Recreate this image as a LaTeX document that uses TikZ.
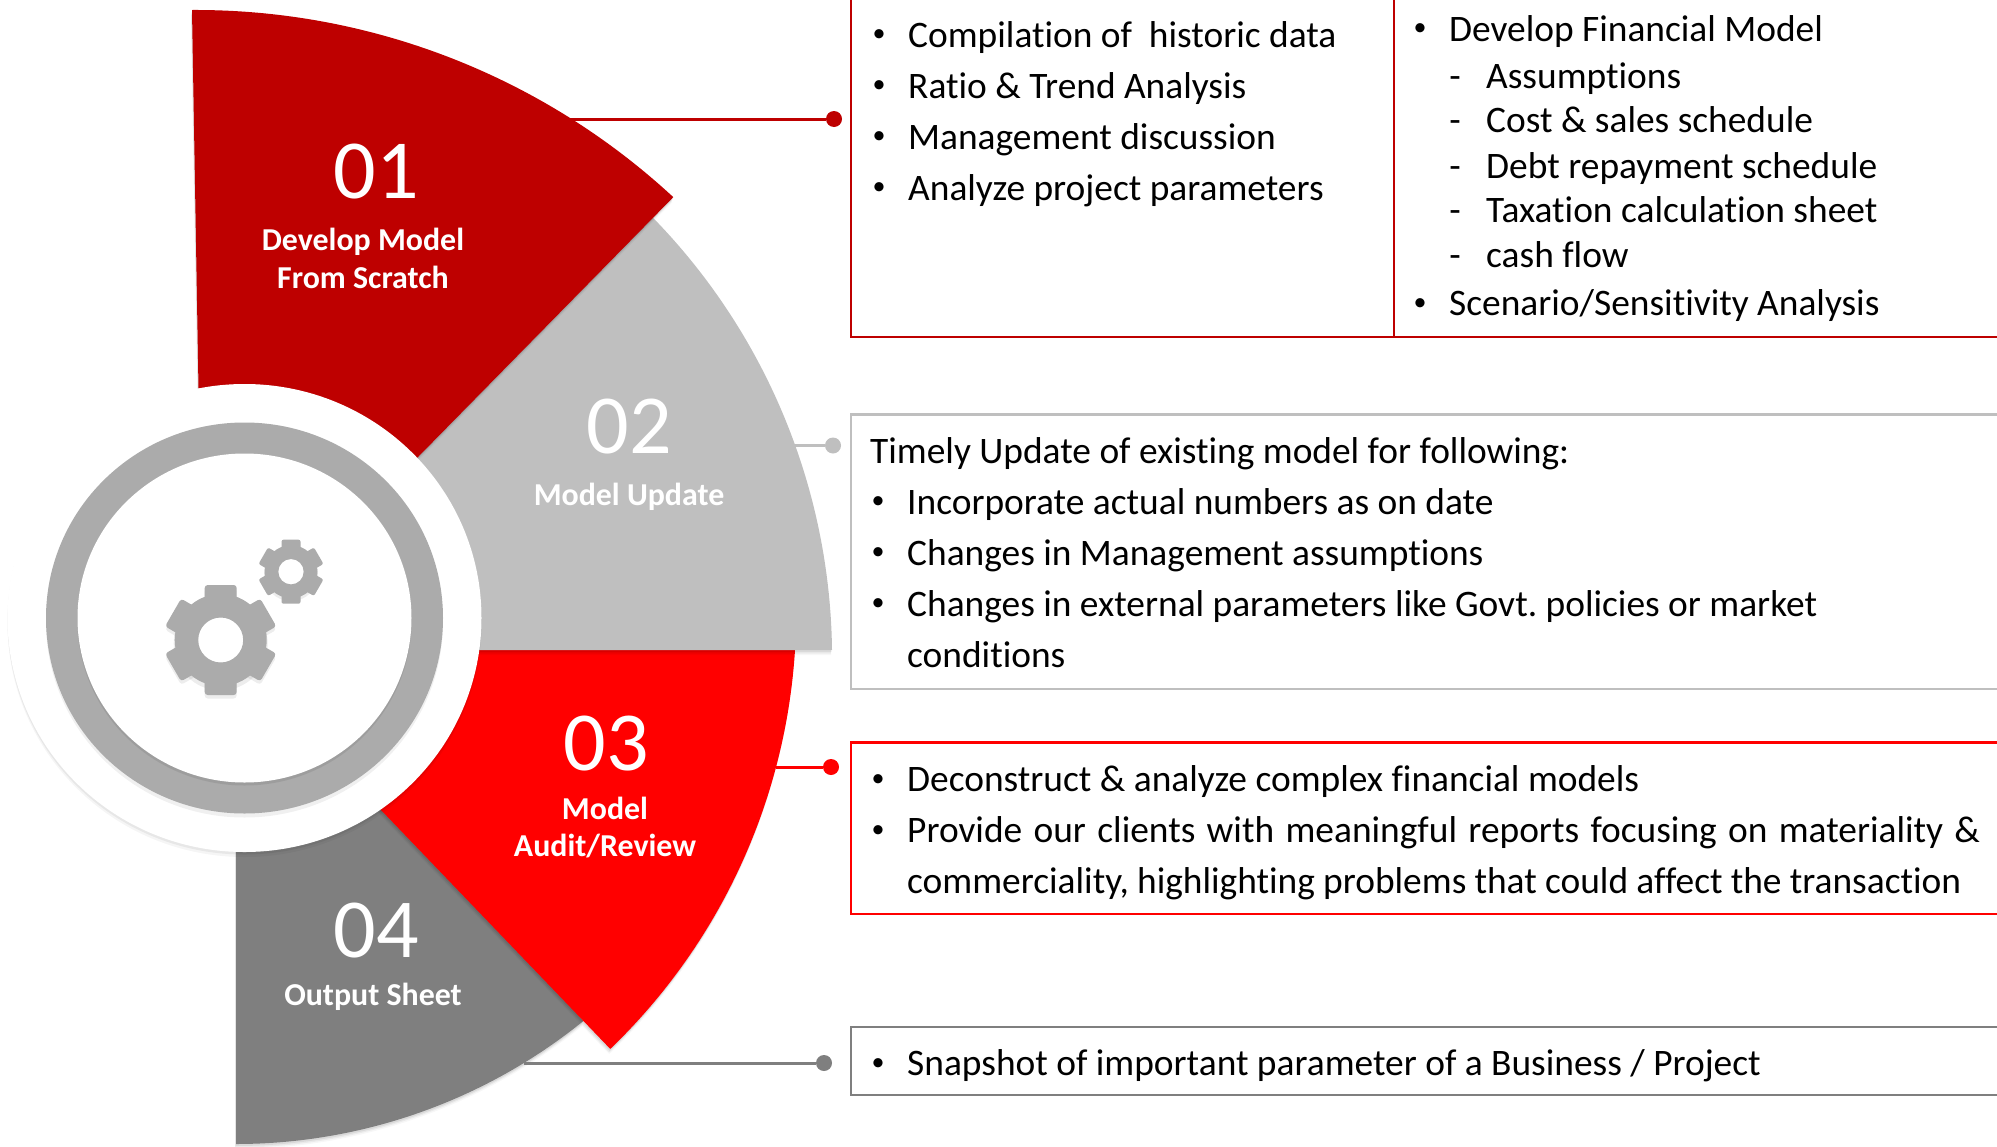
\documentclass[tikz,border=0pt]{standalone}
\usepackage{fontspec}
\setmainfont{Carlito}[RawFeature={-liga;-clig;-dlig}]
\frenchspacing
\usetikzlibrary{calc}
\definecolor{cA}{HTML}{BE0000}
\definecolor{cB}{HTML}{BFBFBF}
\definecolor{cC}{HTML}{FF0000}
\definecolor{cD}{HTML}{7F7F7F}
\definecolor{ring}{HTML}{ABABAB}
\tikzset{
  softshadow/.style={
    preaction={fill=black,opacity=.03,transform canvas={shift={(-1pt,-5pt)}}},
    preaction={fill=black,opacity=.05,transform canvas={shift={(-1pt,-3.5pt)}}},
    preaction={fill=black,opacity=.07,transform canvas={shift={(-.5pt,-2pt)}}}},
  numtxt/.style={text=white,inner sep=0pt,font=\fontsize{84}{84}\selectfont},
  labtxt/.style={text=white,inner sep=0pt,font=\fontsize{31.9}{32}\selectfont\bfseries},
  bodytxt/.style={text=black,inner sep=0pt,anchor=base west,yshift=-.3pt,font=\fontsize{37.4}{38}\selectfont},
  bultxt/.style={text=black,inner sep=0pt,anchor=base,yshift=5.5pt,font=\fontsize{26}{26}\selectfont},
  dashtxt/.style={text=black,inner sep=0pt,anchor=base,yshift=-.3pt,font=\fontsize{37.4}{38}\selectfont},
  dotnode/.style={circle,inner sep=0pt,minimum size=16pt,fill=#1},
  conn/.style={draw=#1,line width=3pt},
  boxline/.style={draw=#1,line width=2.2pt},
}
\newcommand{\bitem}[4]{% name, bullet x, text x, y  (text follows)
  \node[bultxt] (#1b) at (#2,-#4) {•};\bitemtext{#1}{#3}{#4}}
\newcommand{\bitemtext}[3]{\node[bodytxt] (#1) at (#2,-#3)}
\begin{document}
\begin{tikzpicture}[x=1pt,y=1pt]
\useasboundingbox (0,0) rectangle (1997,-1146);
% sectors
\fill[cD,softshadow] (236,-851) -- (236,-1144) arc[start angle=-90,end angle=-51,radius=552pt] -- (245,-618) -- cycle;
\fill[cC,softshadow] (480,-650) -- (795,-650) arc[start angle=-3.6,end angle=-46.1,radius=606.5pt] -- (381,-810) -- (245,-618) -- cycle;
\fill[cB,softshadow] (245,-618) -- (480,-650) -- (832,-650) arc[start angle=.7,end angle=44.3,radius=630pt] -- cycle;
\fill[cA,softshadow] (192,-10) arc[start angle=90.3,end angle=47.2,radius=703pt] -- (418,-457) -- (245,-618) -- (198.5,-388) -- cycle;
% centre
\node[circle,minimum size=2pt,inner sep=0pt] (hub) at (244.5,-618) {};
\fill[white,preaction={fill=black,opacity=.04,transform canvas={shift={(0pt,-5pt)}}},preaction={fill=black,opacity=.06,transform canvas={shift={(0pt,-2.5pt)}}}] (hub.center) ellipse[x radius=237pt,y radius=234pt];
\fill[ring,preaction={fill=black,opacity=.06,transform canvas={shift={(0pt,-4pt)}}}] (hub.center) ellipse[x radius=198.5pt,y radius=195.5pt];
\fill[white,preaction={fill=black,opacity=.08,transform canvas={shift={(0pt,-3pt)}}}] (hub.center) ellipse[x radius=167pt,y radius=164.5pt];
% gears
\begin{scope}[shift={(220.7,-640)}]
  \fill[black,opacity=.07] (0,-3.5) circle[radius=47pt];
  \foreach \a in {30,90,...,330}{
    \fill[black,opacity=.07,rounded corners=3pt,rotate around={\a:(0,-3.5)},shift={(0,-3.5)}] (30,-16) rectangle (55,16);}
  \foreach \a in {30,90,...,330}{
    \fill[ring,rounded corners=3pt,rotate=\a] (30,-16) rectangle (55,16);}
  \fill[white] (0,0) circle[radius=22.5pt];
  \fill[ring,even odd rule] (0,0) circle[radius=46pt] (0,0) circle[radius=22.5pt];
\end{scope}
\begin{scope}[shift={(291,-571.7)}]
  \fill[black,opacity=.07] (0,-2.5) circle[radius=27pt];
  \foreach \a in {30,90,...,330}{
    \fill[ring,rounded corners=2pt,rotate=\a] (18,-9.5) rectangle (32,9.5);}
  \fill[white] (0,0) circle[radius=12.7pt];
  \fill[ring,even odd rule] (0,0) circle[radius=26.5pt] (0,0) circle[radius=12.7pt];
\end{scope}
% sector labels
\node[numtxt] (n1) at (376.5,-171.3) {01};
\node[numtxt] (n2) at (629,-426.3) {02};
\node[numtxt] (n3) at (606.5,-743.5) {03};
\node[numtxt] (n4) at (376.5,-930.5) {04};
\node[labtxt] (l1a) at (363,-241.5) {Develop Model};
\node[labtxt] (l1b) at (363,-277) {From Scratch};
\node[labtxt] (l2) at (629,-497) {Model Update};
\node[labtxt] (l3a) at (605,-808.5) {Model};
\node[labtxt] (l3b) at (605,-846.5) {Audit/Review};
\node[labtxt] (l4) at (373,-996.5) {Output Sheet};
% boxes
\draw[boxline=cA] (851,10) -- (851,-337) -- (2010,-337);
\draw[boxline=cA,line width=1.8pt] (1394,10) -- (1394,-337);
\draw[boxline=cB] (2010,-414.5) -- (851,-414.5) -- (851,-689) -- (2010,-689);
\draw[boxline=cC] (2010,-742.5) -- (851,-742.5) -- (851,-914) -- (2010,-914);
\draw[boxline=cD] (2010,-1027) -- (851,-1027) -- (851,-1095) -- (2010,-1095);
% connectors
\coordinate (s1) at (570,-119);
\coordinate (s2) at (795,-445.5);
\coordinate (s3) at (776,-767);
\coordinate (s4) at (524,-1063);
\node[dotnode=cA] (d1) at (834,-119) {};
\node[dotnode=cB] (d2) at (833,-445.5) {};
\node[dotnode=cC] (d3) at (831,-767) {};
\node[dotnode=cD] (d4) at (824,-1063) {};
\draw[conn=cA] (s1) -- (d1);
\draw[conn=cB] (s2) -- (d2);
\draw[conn=cC] (s3) -- (d3);
\draw[conn=cD] (s4) -- (d4);
% box 1 left
\bitem{a1}{879}{908}{47}{Compilation of\ \ historic data};
\bitem{a2}{879}{908}{98}{Ratio \& Trend Analysis};
\bitem{a3}{879}{908}{149}{Management discussion};
\bitem{a4}{879}{908}{200}{Analyze project parameters};
% box 1 right
\bitem{b1}{1420}{1449}{41}{Develop Financial Model};
\node[dashtxt] (b2d) at (1455,-88.5) {-};\bitemtext{b2}{1486}{88.5}{Assumptions};
\node[dashtxt] (b3d) at (1455,-132.5) {-};\bitemtext{b3}{1486}{132.5}{Cost \& sales schedule};
\node[dashtxt] (b4d) at (1455,-178) {-};\bitemtext{b4}{1486}{178}{Debt repayment schedule};
\node[dashtxt] (b5d) at (1455,-222.5) {-};\bitemtext{b5}{1486}{222.5}{Taxation calculation sheet};
\node[dashtxt] (b6d) at (1455,-267) {-};\bitemtext{b6}{1486}{267}{cash flow};
\bitem{b7}{1420}{1449}{315.5}{Scenario/Sensitivity Analysis};
% box 2
\bitemtext{c0}{870}{463.5}{Timely Update of existing model for following:};
\bitem{c1}{878}{907}{514}{Incorporate actual numbers as on date};
\bitem{c2}{878}{907}{565}{Changes in Management assumptions};
\bitem{c3}{878}{907}{616}{Changes in external parameters like Govt. policies or market};
\bitemtext{c4}{907}{667}{conditions};
% box 3
\bitem{e1}{878}{907}{791.5}{Deconstruct \& analyze complex financial models};
\bitem{e2}{878}{907}{842.5}{\makebox[1073pt][s]{Provide our clients with meaningful reports focusing on materiality \&}};
\bitemtext{e3}{907}{893.5}{\makebox[1054pt][s]{commerciality, highlighting problems that could affect the transaction}};
% box 4
\bitem{f1}{878}{907}{1075.5}{Snapshot of important parameter of a Business / Project};
\end{tikzpicture}
\end{document}
